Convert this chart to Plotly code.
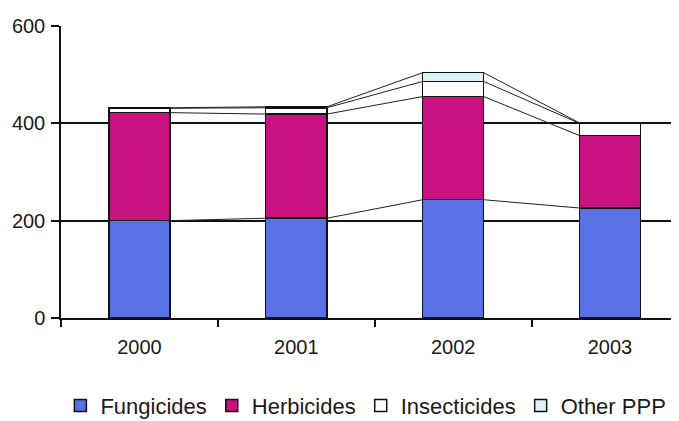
import plotly.graph_objects as go

years = ["2000", "2001", "2002", "2003"]
fungicides = [200, 205, 243, 226]
herbicides = [222, 214, 212, 149]
insecticides = [9, 13, 31, 25]
other_ppp = [1, 2, 18, 1]

series_names = ["Fungicides", "Herbicides", "Insecticides", "Other PPP"]
series_colors = ["#5872E6", "#C8127F", "#FFFFFF", "#DDF3F7"]
series_values = [fungicides, herbicides, insecticides, other_ppp]

x_pos = list(range(len(years)))
bar_w = 0.39

fig = go.Figure()
for name, col, vals in zip(series_names, series_colors, series_values):
    fig.add_trace(go.Bar(
        x=x_pos, y=vals, name=name, width=bar_w,
        marker=dict(color=col, line=dict(color="#111111", width=1.5)),
    ))

# Series lines connecting cumulative tops between adjacent bars
cum = [0] * len(years)
for vals in series_values:
    cum = [c + v for c, v in zip(cum, vals)]
    lx, ly = [], []
    for i in range(len(years) - 1):
        lx += [x_pos[i] + bar_w / 2, x_pos[i + 1] - bar_w / 2, None]
        ly += [cum[i], cum[i + 1], None]
    fig.add_trace(go.Scatter(x=lx, y=ly, mode="lines", showlegend=False,
                             line=dict(color="#222222", width=1), hoverinfo="skip"))

font_fam = "Liberation Sans, Arial, sans-serif"
fig.update_layout(
    width=671, height=413,
    margin=dict(l=53, r=0, t=18, b=103, autoexpand=False),
    barmode="stack",
    plot_bgcolor="white", paper_bgcolor="white",
    font=dict(family=font_fam, color="#1a1a1a", size=20),
    legend=dict(orientation="h", x=-0.001, xanchor="left", y=-0.300, yanchor="middle",
                font=dict(size=22, family=font_fam, color="#1a1a1a"),
                traceorder="normal"),
    showlegend=True,
)
fig.update_xaxes(
    range=[-0.5, 3.44], tickvals=x_pos, ticktext=years,
    ticks="outside", ticklen=10, tickcolor="rgba(0,0,0,0)",
    showgrid=False, zeroline=False,
    showline=True, linecolor="#111111", linewidth=1.5,
    minor=dict(tickvals=[-0.5, 0.5, 1.5, 2.5, 3.5], ticks="outside", ticklen=7,
               tickcolor="#111111", tickwidth=1.5, showgrid=False),
    tickfont=dict(size=20),
)
fig.update_yaxes(
    range=[0, 600], tickvals=[0, 200, 400, 600],
    ticks="outside", ticklen=8, tickcolor="#111111", tickwidth=1.5,
    ticklabelstandoff=2,
    showgrid=True, gridcolor="#111111", gridwidth=1.5,
    zeroline=False, showline=True, linecolor="#111111", linewidth=1.5,
    tickfont=dict(size=20),
)
fig.write_html("out.html")
